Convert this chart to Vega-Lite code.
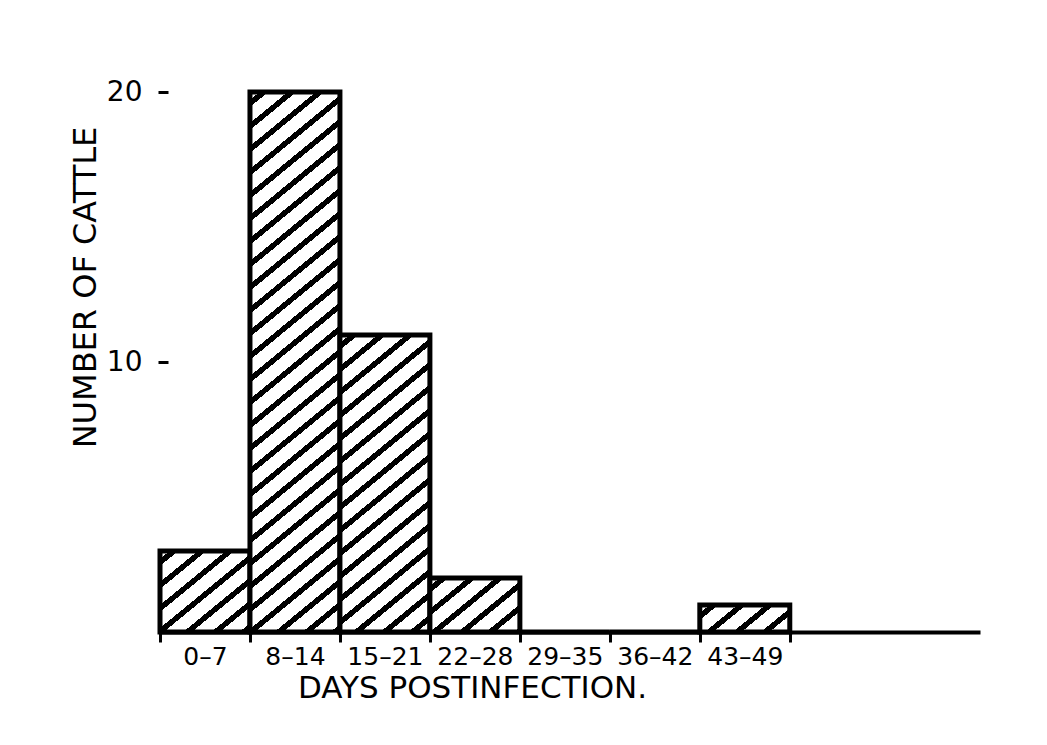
{
  "$schema": "https://vega.github.io/schema/vega-lite/v6.json",
  "autosize": {"type": "none"},
  "padding": {"left": 160, "top": 92, "right": 67, "bottom": 113},
  "width": 820,
  "height": 540,
  "background": "white",
  "config": {"view": {"stroke": null}},
  "data": {
    "values": [
      {"days": "0–7", "start": 0, "end": 7, "cattle": 3},
      {"days": "8–14", "start": 7, "end": 14, "cattle": 20},
      {"days": "15–21", "start": 14, "end": 21, "cattle": 11},
      {"days": "22–28", "start": 21, "end": 28, "cattle": 2},
      {"days": "29–35", "start": 28, "end": 35, "cattle": 0},
      {"days": "36–42", "start": 35, "end": 42, "cattle": 0},
      {"days": "43–49", "start": 42, "end": 49, "cattle": 1}
    ]
  },
  "mark": {"type": "bar", "stroke": "black", "strokeWidth": 5, "strokeJoin": "miter"},
  "encoding": {
    "x": {
      "field": "start",
      "type": "quantitative",
      "scale": {"domain": [0, 63.8], "nice": false, "zero": false},
      "axis": {
        "values": [0, 3.5, 7, 10.5, 14, 17.5, 21, 24.5, 28, 31.5, 35, 38.5, 42, 45.5, 49],
        "labelExpr": "datum.value % 7 == 0 ? '' : ['0–7','8–14','15–21','22–28','29–35','36–42','43–49'][floor(datum.value / 7)]",
        "grid": false,
        "domain": true,
        "domainColor": "black",
        "domainWidth": 4,
        "ticks": true,
        "tickColor": "black",
        "tickWidth": 3,
        "tickSize": 10,
        "tickOpacity": {"condition": {"test": "datum.value % 7 != 0", "value": 0}, "value": 1},
        "labelFont": "DejaVu Sans",
        "labelFontSize": 25,
        "labelColor": "black",
        "labelBaseline": "alphabetic",
        "labelPadding": 22,
        "labelOverlap": false,
        "labelFlush": false,
        "labelAngle": 0,
        "title": "DAYS POSTINFECTION.",
        "titleFont": "DejaVu Sans",
        "titleFontSize": 31,
        "titleFontWeight": "normal",
        "titleColor": "black",
        "titleX": 312,
        "titleY": 65,
        "titleAlign": "center",
        "titleBaseline": "alphabetic"
      }
    },
    "x2": {"field": "end"},
    "y": {
      "field": "cattle",
      "type": "quantitative",
      "stack": null,
      "scale": {"domain": [0, 20], "nice": false},
      "axis": {
        "values": [10, 20],
        "grid": false,
        "domain": false,
        "offset": -8,
        "tickColor": "black",
        "tickWidth": 3,
        "tickSize": 10,
        "labelFont": "DejaVu Sans",
        "labelFontSize": 28,
        "labelColor": "black",
        "labelPadding": 16,
        "title": "NUMBER OF CATTLE",
        "titleFont": "DejaVu Sans",
        "titleFontSize": 32,
        "titleFontWeight": "normal",
        "titleColor": "black",
        "titleX": -83,
        "titleY": 195,
        "titleAngle": -90,
        "titleAlign": "center",
        "titleBaseline": "middle"
      }
    },
    "y2": {"datum": 0},
    "fill": {
      "condition": [
        {"test": "datum.days === '0–7'", "value": {"gradient": "linear", "x1": 0, "y1": 0, "x2": 6.146, "y2": 6.746, "stops": [
          {"offset": 0, "color": "#fff"},
          {"offset": 0.008, "color": "#fff"}, {"offset": 0.008, "color": "#000"}, {"offset": 0.015, "color": "#000"}, {"offset": 0.015, "color": "#fff"},
          {"offset": 0.031, "color": "#fff"}, {"offset": 0.031, "color": "#000"}, {"offset": 0.038, "color": "#000"}, {"offset": 0.038, "color": "#fff"},
          {"offset": 0.054, "color": "#fff"}, {"offset": 0.054, "color": "#000"}, {"offset": 0.061, "color": "#000"}, {"offset": 0.061, "color": "#fff"},
          {"offset": 0.077, "color": "#fff"}, {"offset": 0.077, "color": "#000"}, {"offset": 0.084, "color": "#000"}, {"offset": 0.084, "color": "#fff"},
          {"offset": 0.100, "color": "#fff"}, {"offset": 0.100, "color": "#000"}, {"offset": 0.107, "color": "#000"}, {"offset": 0.107, "color": "#fff"},
          {"offset": 0.123, "color": "#fff"}, {"offset": 0.123, "color": "#000"}, {"offset": 0.130, "color": "#000"}, {"offset": 0.130, "color": "#fff"},
          {"offset": 0.146, "color": "#fff"}, {"offset": 0.146, "color": "#000"}, {"offset": 0.153, "color": "#000"}, {"offset": 0.153, "color": "#fff"},
          {"offset": 0.169, "color": "#fff"}, {"offset": 0.169, "color": "#000"}, {"offset": 0.176, "color": "#000"}, {"offset": 0.176, "color": "#fff"},
          {"offset": 1, "color": "#fff"}
        ]}},
        {"test": "datum.days === '8–14'", "value": {"gradient": "linear", "x1": 0, "y1": 0, "x2": 0.2484, "y2": 1.8179, "stops": [
          {"offset": 0, "color": "#fff"},
          {"offset": 0.008, "color": "#fff"}, {"offset": 0.008, "color": "#000"}, {"offset": 0.015, "color": "#000"}, {"offset": 0.015, "color": "#fff"},
          {"offset": 0.031, "color": "#fff"}, {"offset": 0.031, "color": "#000"}, {"offset": 0.038, "color": "#000"}, {"offset": 0.038, "color": "#fff"},
          {"offset": 0.054, "color": "#fff"}, {"offset": 0.054, "color": "#000"}, {"offset": 0.061, "color": "#000"}, {"offset": 0.061, "color": "#fff"},
          {"offset": 0.077, "color": "#fff"}, {"offset": 0.077, "color": "#000"}, {"offset": 0.084, "color": "#000"}, {"offset": 0.084, "color": "#fff"},
          {"offset": 0.100, "color": "#fff"}, {"offset": 0.100, "color": "#000"}, {"offset": 0.107, "color": "#000"}, {"offset": 0.107, "color": "#fff"},
          {"offset": 0.123, "color": "#fff"}, {"offset": 0.123, "color": "#000"}, {"offset": 0.130, "color": "#000"}, {"offset": 0.130, "color": "#fff"},
          {"offset": 0.146, "color": "#fff"}, {"offset": 0.146, "color": "#000"}, {"offset": 0.153, "color": "#000"}, {"offset": 0.153, "color": "#fff"},
          {"offset": 0.169, "color": "#fff"}, {"offset": 0.169, "color": "#000"}, {"offset": 0.176, "color": "#000"}, {"offset": 0.176, "color": "#fff"},
          {"offset": 0.192, "color": "#fff"}, {"offset": 0.192, "color": "#000"}, {"offset": 0.199, "color": "#000"}, {"offset": 0.199, "color": "#fff"},
          {"offset": 0.215, "color": "#fff"}, {"offset": 0.215, "color": "#000"}, {"offset": 0.222, "color": "#000"}, {"offset": 0.222, "color": "#fff"},
          {"offset": 0.238, "color": "#fff"}, {"offset": 0.238, "color": "#000"}, {"offset": 0.245, "color": "#000"}, {"offset": 0.245, "color": "#fff"},
          {"offset": 0.261, "color": "#fff"}, {"offset": 0.261, "color": "#000"}, {"offset": 0.268, "color": "#000"}, {"offset": 0.268, "color": "#fff"},
          {"offset": 0.284, "color": "#fff"}, {"offset": 0.284, "color": "#000"}, {"offset": 0.291, "color": "#000"}, {"offset": 0.291, "color": "#fff"},
          {"offset": 0.307, "color": "#fff"}, {"offset": 0.307, "color": "#000"}, {"offset": 0.314, "color": "#000"}, {"offset": 0.314, "color": "#fff"},
          {"offset": 0.330, "color": "#fff"}, {"offset": 0.330, "color": "#000"}, {"offset": 0.337, "color": "#000"}, {"offset": 0.337, "color": "#fff"},
          {"offset": 0.353, "color": "#fff"}, {"offset": 0.353, "color": "#000"}, {"offset": 0.360, "color": "#000"}, {"offset": 0.360, "color": "#fff"},
          {"offset": 0.376, "color": "#fff"}, {"offset": 0.376, "color": "#000"}, {"offset": 0.383, "color": "#000"}, {"offset": 0.383, "color": "#fff"},
          {"offset": 0.399, "color": "#fff"}, {"offset": 0.399, "color": "#000"}, {"offset": 0.406, "color": "#000"}, {"offset": 0.406, "color": "#fff"},
          {"offset": 0.422, "color": "#fff"}, {"offset": 0.422, "color": "#000"}, {"offset": 0.429, "color": "#000"}, {"offset": 0.429, "color": "#fff"},
          {"offset": 0.445, "color": "#fff"}, {"offset": 0.445, "color": "#000"}, {"offset": 0.452, "color": "#000"}, {"offset": 0.452, "color": "#fff"},
          {"offset": 0.468, "color": "#fff"}, {"offset": 0.468, "color": "#000"}, {"offset": 0.475, "color": "#000"}, {"offset": 0.475, "color": "#fff"},
          {"offset": 0.491, "color": "#fff"}, {"offset": 0.491, "color": "#000"}, {"offset": 0.498, "color": "#000"}, {"offset": 0.498, "color": "#fff"},
          {"offset": 0.514, "color": "#fff"}, {"offset": 0.514, "color": "#000"}, {"offset": 0.521, "color": "#000"}, {"offset": 0.521, "color": "#fff"},
          {"offset": 0.537, "color": "#fff"}, {"offset": 0.537, "color": "#000"}, {"offset": 0.544, "color": "#000"}, {"offset": 0.544, "color": "#fff"},
          {"offset": 0.560, "color": "#fff"}, {"offset": 0.560, "color": "#000"}, {"offset": 0.567, "color": "#000"}, {"offset": 0.567, "color": "#fff"},
          {"offset": 0.583, "color": "#fff"}, {"offset": 0.583, "color": "#000"}, {"offset": 0.590, "color": "#000"}, {"offset": 0.590, "color": "#fff"},
          {"offset": 0.606, "color": "#fff"}, {"offset": 0.606, "color": "#000"}, {"offset": 0.613, "color": "#000"}, {"offset": 0.613, "color": "#fff"},
          {"offset": 1, "color": "#fff"}
        ]}},
        {"test": "datum.days === '15–21'", "value": {"gradient": "linear", "x1": 0, "y1": 0, "x2": 0.788, "y2": 3.1712, "stops": [
          {"offset": 0, "color": "#fff"},
          {"offset": 0.008, "color": "#fff"}, {"offset": 0.008, "color": "#000"}, {"offset": 0.015, "color": "#000"}, {"offset": 0.015, "color": "#fff"},
          {"offset": 0.031, "color": "#fff"}, {"offset": 0.031, "color": "#000"}, {"offset": 0.038, "color": "#000"}, {"offset": 0.038, "color": "#fff"},
          {"offset": 0.054, "color": "#fff"}, {"offset": 0.054, "color": "#000"}, {"offset": 0.061, "color": "#000"}, {"offset": 0.061, "color": "#fff"},
          {"offset": 0.077, "color": "#fff"}, {"offset": 0.077, "color": "#000"}, {"offset": 0.084, "color": "#000"}, {"offset": 0.084, "color": "#fff"},
          {"offset": 0.100, "color": "#fff"}, {"offset": 0.100, "color": "#000"}, {"offset": 0.107, "color": "#000"}, {"offset": 0.107, "color": "#fff"},
          {"offset": 0.123, "color": "#fff"}, {"offset": 0.123, "color": "#000"}, {"offset": 0.130, "color": "#000"}, {"offset": 0.130, "color": "#fff"},
          {"offset": 0.146, "color": "#fff"}, {"offset": 0.146, "color": "#000"}, {"offset": 0.153, "color": "#000"}, {"offset": 0.153, "color": "#fff"},
          {"offset": 0.169, "color": "#fff"}, {"offset": 0.169, "color": "#000"}, {"offset": 0.176, "color": "#000"}, {"offset": 0.176, "color": "#fff"},
          {"offset": 0.192, "color": "#fff"}, {"offset": 0.192, "color": "#000"}, {"offset": 0.199, "color": "#000"}, {"offset": 0.199, "color": "#fff"},
          {"offset": 0.215, "color": "#fff"}, {"offset": 0.215, "color": "#000"}, {"offset": 0.222, "color": "#000"}, {"offset": 0.222, "color": "#fff"},
          {"offset": 0.238, "color": "#fff"}, {"offset": 0.238, "color": "#000"}, {"offset": 0.245, "color": "#000"}, {"offset": 0.245, "color": "#fff"},
          {"offset": 0.261, "color": "#fff"}, {"offset": 0.261, "color": "#000"}, {"offset": 0.268, "color": "#000"}, {"offset": 0.268, "color": "#fff"},
          {"offset": 0.284, "color": "#fff"}, {"offset": 0.284, "color": "#000"}, {"offset": 0.291, "color": "#000"}, {"offset": 0.291, "color": "#fff"},
          {"offset": 0.307, "color": "#fff"}, {"offset": 0.307, "color": "#000"}, {"offset": 0.314, "color": "#000"}, {"offset": 0.314, "color": "#fff"},
          {"offset": 0.330, "color": "#fff"}, {"offset": 0.330, "color": "#000"}, {"offset": 0.337, "color": "#000"}, {"offset": 0.337, "color": "#fff"},
          {"offset": 0.353, "color": "#fff"}, {"offset": 0.353, "color": "#000"}, {"offset": 0.360, "color": "#000"}, {"offset": 0.360, "color": "#fff"},
          {"offset": 0.376, "color": "#fff"}, {"offset": 0.376, "color": "#000"}, {"offset": 0.383, "color": "#000"}, {"offset": 0.383, "color": "#fff"},
          {"offset": 1, "color": "#fff"}
        ]}},
        {"test": "datum.days === '22–28'", "value": {"gradient": "linear", "x1": 0, "y1": 0, "x2": 8.8252, "y2": 6.4575, "stops": [
          {"offset": 0, "color": "#fff"},
          {"offset": 0.008, "color": "#fff"}, {"offset": 0.008, "color": "#000"}, {"offset": 0.015, "color": "#000"}, {"offset": 0.015, "color": "#fff"},
          {"offset": 0.031, "color": "#fff"}, {"offset": 0.031, "color": "#000"}, {"offset": 0.038, "color": "#000"}, {"offset": 0.038, "color": "#fff"},
          {"offset": 0.054, "color": "#fff"}, {"offset": 0.054, "color": "#000"}, {"offset": 0.061, "color": "#000"}, {"offset": 0.061, "color": "#fff"},
          {"offset": 0.077, "color": "#fff"}, {"offset": 0.077, "color": "#000"}, {"offset": 0.084, "color": "#000"}, {"offset": 0.084, "color": "#fff"},
          {"offset": 0.100, "color": "#fff"}, {"offset": 0.100, "color": "#000"}, {"offset": 0.107, "color": "#000"}, {"offset": 0.107, "color": "#fff"},
          {"offset": 0.123, "color": "#fff"}, {"offset": 0.123, "color": "#000"}, {"offset": 0.130, "color": "#000"}, {"offset": 0.130, "color": "#fff"},
          {"offset": 0.146, "color": "#fff"}, {"offset": 0.146, "color": "#000"}, {"offset": 0.153, "color": "#000"}, {"offset": 0.153, "color": "#fff"},
          {"offset": 1, "color": "#fff"}
        ]}},
        {"test": "datum.days === '43–49'", "value": {"gradient": "linear", "x1": 0, "y1": 0, "x2": 11.951, "y2": 4.3722, "stops": [
          {"offset": 0, "color": "#fff"},
          {"offset": 0.008, "color": "#fff"}, {"offset": 0.008, "color": "#000"}, {"offset": 0.015, "color": "#000"}, {"offset": 0.015, "color": "#fff"},
          {"offset": 0.031, "color": "#fff"}, {"offset": 0.031, "color": "#000"}, {"offset": 0.038, "color": "#000"}, {"offset": 0.038, "color": "#fff"},
          {"offset": 0.054, "color": "#fff"}, {"offset": 0.054, "color": "#000"}, {"offset": 0.061, "color": "#000"}, {"offset": 0.061, "color": "#fff"},
          {"offset": 0.077, "color": "#fff"}, {"offset": 0.077, "color": "#000"}, {"offset": 0.084, "color": "#000"}, {"offset": 0.084, "color": "#fff"},
          {"offset": 0.100, "color": "#fff"}, {"offset": 0.100, "color": "#000"}, {"offset": 0.107, "color": "#000"}, {"offset": 0.107, "color": "#fff"},
          {"offset": 0.123, "color": "#fff"}, {"offset": 0.123, "color": "#000"}, {"offset": 0.130, "color": "#000"}, {"offset": 0.130, "color": "#fff"},
          {"offset": 1, "color": "#fff"}
        ]}}
      ],
      "value": "white"
    }
  }
}
